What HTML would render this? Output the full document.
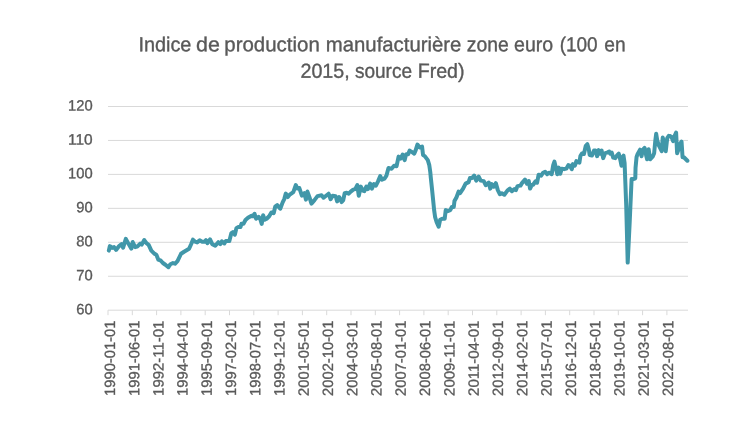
<!DOCTYPE html>
<html><head><meta charset="utf-8"><title>Chart</title>
<style>
html,body{margin:0;padding:0;background:#fff;}
body{width:750px;height:427px;overflow:hidden;font-family:"Liberation Sans",sans-serif;}
svg{display:block;}
.ax{font-family:"Liberation Sans",sans-serif;font-size:14.9px;fill:#595959;stroke:#595959;stroke-width:0.33px;}
.t{font-family:"Liberation Sans",sans-serif;font-size:20.3px;fill:#595959;stroke:#595959;stroke-width:0.35px;}
</style></head><body>
<svg width="750" height="427" viewBox="0 0 750 427">
<rect width="750" height="427" fill="#ffffff"/>
<g style="will-change:transform;text-rendering:geometricPrecision">
<text x="138.42" y="51.25" transform="rotate(0.05 138.42 51.25)" textLength="53.01" lengthAdjust="spacingAndGlyphs" class="t">Indice</text>
<text x="196.06" y="51.25" transform="rotate(0.05 196.06 51.25)" textLength="23.85" lengthAdjust="spacingAndGlyphs" class="t">de</text>
<text x="224.32" y="51.25" transform="rotate(0.05 224.32 51.25)" textLength="95.44" lengthAdjust="spacingAndGlyphs" class="t">production</text>
<text x="325.75" y="51.25" transform="rotate(0.05 325.75 51.25)" textLength="135.68" lengthAdjust="spacingAndGlyphs" class="t">manufacturière</text>
<text x="466.84" y="51.25" transform="rotate(0.05 466.84 51.25)" textLength="41.91" lengthAdjust="spacingAndGlyphs" class="t">zone</text>
<text x="514.11" y="51.25" transform="rotate(0.05 514.11 51.25)" textLength="39.07" lengthAdjust="spacingAndGlyphs" class="t">euro</text>
<text x="559.63" y="51.25" transform="rotate(0.05 559.63 51.25)" textLength="38.06" lengthAdjust="spacingAndGlyphs" class="t">(100</text>
<text x="604.27" y="51.25" transform="rotate(0.05 604.27 51.25)" textLength="21.32" lengthAdjust="spacingAndGlyphs" class="t">en</text>
<text x="300.44" y="77.8" transform="rotate(0.05 300.44 77.8)" textLength="49.29" lengthAdjust="spacingAndGlyphs" class="t">2015,</text>
<text x="354.88" y="77.8" transform="rotate(0.05 354.88 77.8)" textLength="57.14" lengthAdjust="spacingAndGlyphs" class="t">source</text>
<text x="417.68" y="77.8" transform="rotate(0.05 417.68 77.8)" textLength="46.89" lengthAdjust="spacingAndGlyphs" class="t">Fred)</text>
<line x1="108.0" y1="106.50" x2="688.0" y2="106.50" stroke="#d9d9d9" stroke-width="1"/>
<line x1="108.0" y1="140.45" x2="688.0" y2="140.45" stroke="#d9d9d9" stroke-width="1"/>
<line x1="108.0" y1="174.40" x2="688.0" y2="174.40" stroke="#d9d9d9" stroke-width="1"/>
<line x1="108.0" y1="208.35" x2="688.0" y2="208.35" stroke="#d9d9d9" stroke-width="1"/>
<line x1="108.0" y1="242.30" x2="688.0" y2="242.30" stroke="#d9d9d9" stroke-width="1"/>
<line x1="108.0" y1="276.25" x2="688.0" y2="276.25" stroke="#d9d9d9" stroke-width="1"/>
<line x1="108.0" y1="310.20" x2="688.0" y2="310.20" stroke="#d9d9d9" stroke-width="1"/>
<line x1="108.00" y1="310.20" x2="108.00" y2="315.20" stroke="#d9d9d9" stroke-width="1"/>
<line x1="132.30" y1="310.20" x2="132.30" y2="315.20" stroke="#d9d9d9" stroke-width="1"/>
<line x1="156.60" y1="310.20" x2="156.60" y2="315.20" stroke="#d9d9d9" stroke-width="1"/>
<line x1="180.90" y1="310.20" x2="180.90" y2="315.20" stroke="#d9d9d9" stroke-width="1"/>
<line x1="205.20" y1="310.20" x2="205.20" y2="315.20" stroke="#d9d9d9" stroke-width="1"/>
<line x1="229.50" y1="310.20" x2="229.50" y2="315.20" stroke="#d9d9d9" stroke-width="1"/>
<line x1="253.80" y1="310.20" x2="253.80" y2="315.20" stroke="#d9d9d9" stroke-width="1"/>
<line x1="278.10" y1="310.20" x2="278.10" y2="315.20" stroke="#d9d9d9" stroke-width="1"/>
<line x1="302.40" y1="310.20" x2="302.40" y2="315.20" stroke="#d9d9d9" stroke-width="1"/>
<line x1="326.70" y1="310.20" x2="326.70" y2="315.20" stroke="#d9d9d9" stroke-width="1"/>
<line x1="351.00" y1="310.20" x2="351.00" y2="315.20" stroke="#d9d9d9" stroke-width="1"/>
<line x1="375.30" y1="310.20" x2="375.30" y2="315.20" stroke="#d9d9d9" stroke-width="1"/>
<line x1="399.60" y1="310.20" x2="399.60" y2="315.20" stroke="#d9d9d9" stroke-width="1"/>
<line x1="423.90" y1="310.20" x2="423.90" y2="315.20" stroke="#d9d9d9" stroke-width="1"/>
<line x1="448.20" y1="310.20" x2="448.20" y2="315.20" stroke="#d9d9d9" stroke-width="1"/>
<line x1="472.50" y1="310.20" x2="472.50" y2="315.20" stroke="#d9d9d9" stroke-width="1"/>
<line x1="496.80" y1="310.20" x2="496.80" y2="315.20" stroke="#d9d9d9" stroke-width="1"/>
<line x1="521.10" y1="310.20" x2="521.10" y2="315.20" stroke="#d9d9d9" stroke-width="1"/>
<line x1="545.40" y1="310.20" x2="545.40" y2="315.20" stroke="#d9d9d9" stroke-width="1"/>
<line x1="569.70" y1="310.20" x2="569.70" y2="315.20" stroke="#d9d9d9" stroke-width="1"/>
<line x1="594.00" y1="310.20" x2="594.00" y2="315.20" stroke="#d9d9d9" stroke-width="1"/>
<line x1="618.30" y1="310.20" x2="618.30" y2="315.20" stroke="#d9d9d9" stroke-width="1"/>
<line x1="642.60" y1="310.20" x2="642.60" y2="315.20" stroke="#d9d9d9" stroke-width="1"/>
<line x1="666.90" y1="310.20" x2="666.90" y2="315.20" stroke="#d9d9d9" stroke-width="1"/>
<text x="68.10" y="110.45" transform="rotate(0.05 68.10 110.45)" textLength="24.6" lengthAdjust="spacingAndGlyphs" class="ax">120</text>
<text x="68.10" y="144.40" transform="rotate(0.05 68.10 144.40)" textLength="24.6" lengthAdjust="spacingAndGlyphs" class="ax">110</text>
<text x="68.10" y="178.35" transform="rotate(0.05 68.10 178.35)" textLength="24.6" lengthAdjust="spacingAndGlyphs" class="ax">100</text>
<text x="76.30" y="212.30" transform="rotate(0.05 76.30 212.30)" textLength="16.4" lengthAdjust="spacingAndGlyphs" class="ax">90</text>
<text x="76.30" y="246.25" transform="rotate(0.05 76.30 246.25)" textLength="16.4" lengthAdjust="spacingAndGlyphs" class="ax">80</text>
<text x="76.30" y="280.20" transform="rotate(0.05 76.30 280.20)" textLength="16.4" lengthAdjust="spacingAndGlyphs" class="ax">70</text>
<text x="76.30" y="314.15" transform="rotate(0.05 76.30 314.15)" textLength="16.4" lengthAdjust="spacingAndGlyphs" class="ax">60</text>
<text transform="translate(114.95,395.9) rotate(-89.95)" textLength="75.3" lengthAdjust="spacingAndGlyphs" class="ax">1990-01-01</text>
<text transform="translate(139.17,395.9) rotate(-89.95)" textLength="75.3" lengthAdjust="spacingAndGlyphs" class="ax">1991-06-01</text>
<text transform="translate(163.39,395.9) rotate(-89.95)" textLength="75.3" lengthAdjust="spacingAndGlyphs" class="ax">1992-11-01</text>
<text transform="translate(187.61,395.9) rotate(-89.95)" textLength="75.3" lengthAdjust="spacingAndGlyphs" class="ax">1994-04-01</text>
<text transform="translate(211.83,395.9) rotate(-89.95)" textLength="75.3" lengthAdjust="spacingAndGlyphs" class="ax">1995-09-01</text>
<text transform="translate(236.05,395.9) rotate(-89.95)" textLength="75.3" lengthAdjust="spacingAndGlyphs" class="ax">1997-02-01</text>
<text transform="translate(260.27,395.9) rotate(-89.95)" textLength="75.3" lengthAdjust="spacingAndGlyphs" class="ax">1998-07-01</text>
<text transform="translate(284.49,395.9) rotate(-89.95)" textLength="75.3" lengthAdjust="spacingAndGlyphs" class="ax">1999-12-01</text>
<text transform="translate(308.71,395.9) rotate(-89.95)" textLength="75.3" lengthAdjust="spacingAndGlyphs" class="ax">2001-05-01</text>
<text transform="translate(332.93,395.9) rotate(-89.95)" textLength="75.3" lengthAdjust="spacingAndGlyphs" class="ax">2002-10-01</text>
<text transform="translate(357.20,395.9) rotate(-89.95)" textLength="75.3" lengthAdjust="spacingAndGlyphs" class="ax">2004-03-01</text>
<text transform="translate(381.50,395.9) rotate(-89.95)" textLength="75.3" lengthAdjust="spacingAndGlyphs" class="ax">2005-08-01</text>
<text transform="translate(405.80,395.9) rotate(-89.95)" textLength="75.3" lengthAdjust="spacingAndGlyphs" class="ax">2007-01-01</text>
<text transform="translate(430.10,395.9) rotate(-89.95)" textLength="75.3" lengthAdjust="spacingAndGlyphs" class="ax">2008-06-01</text>
<text transform="translate(454.40,395.9) rotate(-89.95)" textLength="75.3" lengthAdjust="spacingAndGlyphs" class="ax">2009-11-01</text>
<text transform="translate(478.70,395.9) rotate(-89.95)" textLength="75.3" lengthAdjust="spacingAndGlyphs" class="ax">2011-04-01</text>
<text transform="translate(503.00,395.9) rotate(-89.95)" textLength="75.3" lengthAdjust="spacingAndGlyphs" class="ax">2012-09-01</text>
<text transform="translate(527.30,395.9) rotate(-89.95)" textLength="75.3" lengthAdjust="spacingAndGlyphs" class="ax">2014-02-01</text>
<text transform="translate(551.60,395.9) rotate(-89.95)" textLength="75.3" lengthAdjust="spacingAndGlyphs" class="ax">2015-07-01</text>
<text transform="translate(575.90,395.9) rotate(-89.95)" textLength="75.3" lengthAdjust="spacingAndGlyphs" class="ax">2016-12-01</text>
<text transform="translate(600.20,395.9) rotate(-89.95)" textLength="75.3" lengthAdjust="spacingAndGlyphs" class="ax">2018-05-01</text>
<text transform="translate(624.50,395.9) rotate(-89.95)" textLength="75.3" lengthAdjust="spacingAndGlyphs" class="ax">2019-10-01</text>
<text transform="translate(648.80,395.9) rotate(-89.95)" textLength="75.3" lengthAdjust="spacingAndGlyphs" class="ax">2021-03-01</text>
<text transform="translate(673.10,395.9) rotate(-89.95)" textLength="75.3" lengthAdjust="spacingAndGlyphs" class="ax">2022-08-01</text>
</g>
<polyline points="108.83,250.64 109.83,246.11 112.05,247.92 114.06,247.11 116.07,249.93 119.09,246.11 121.61,244.09 123.12,247.62 125.84,238.86 128.66,244.09 131.38,248.62 132.69,242.08 135.2,247.11 137.22,246.61 140.24,243.59 141.75,244.6 144.26,240.07 146.28,242.89 148.79,245.1 151.31,250.64 154.33,253.66 156.34,254.67 158.36,259.7 160.87,260.71 162.89,263.02 165.4,264.73 168.42,267.25 170.44,264.23 172.96,263.02 174.97,263.73 177.49,261.21 181.04,253.76 184.06,251.75 186.58,250.24 189.09,248.73 191.11,244.2 192.92,239.67 195.13,241.68 197.15,242.38 199.67,240.37 202.18,241.68 204.7,241.68 206.01,240.17 207.42,243.19 210.03,239.46 212.25,244.2 215.27,245.71 218.29,242.18 220.3,244.2 221.81,241.38 224.33,243.39 225.84,240.97 229.36,240.97 231.38,233.12 232.89,232.11 234.9,234.63 236.41,228.09 238.42,226.88 240.44,227.08 241.45,223.86 243.46,223.86 245.47,220.03 247.99,217.82 251.54,215.74 253.05,216.24 254.56,213.73 256.07,218.76 258.59,216.75 260.3,219.26 261.71,223.89 263.12,215.24 264.63,219.77 266.65,218.76 269.16,216.24 271.38,212.42 273.69,213.22 275.2,206.68 277.22,205.17 280.24,208.69 282.75,202.15 284.26,199.13 285.77,193.59 287.79,197.11 289.8,194.6 293.32,192.08 295.84,185.03 297.35,188.56 299.36,188.05 301.88,195.6 304.4,193.09 305.91,199.63 307.42,191.58 309.43,197.11 311.45,203.66 314.47,200.13 317.49,196.11 321.54,195.2 323.56,197.72 326.07,195.71 328.59,193.69 330.6,199.23 332.62,195.71 335.64,196.21 337.15,201.44 339.16,197.01 341.68,202.05 343.19,200.24 344.7,193.19 346.71,192.69 348.73,193.69 350.74,191.68 353.26,189.67 355.27,189.16 357.28,185.13 358.79,195.71 360.81,186.65 362.82,190.67 364.33,191.18 366.34,186.65 367.85,189.16 370.17,183.62 371.88,188.66 373.89,184.13 375.91,185.64 377.92,181.61 380.24,176.07 381.95,179.6 384.47,178.59 386.48,175.57 388.49,168.02 391.54,168.73 394.06,165.71 396.58,166.21 398.59,156.65 400.6,158.66 402.62,154.63 404.63,160.17 406.14,154.13 408.16,154.13 409.67,150.6 412.18,152.11 414.2,153.62 415.71,150.1 417.42,144.56 419.73,147.58 422.05,146.58 423.05,155.13 424.77,156.14 427.79,160.17 429.3,165.2 430.3,172.25 430.81,177.79 432.11,190.0 433.12,200.07 434.13,210.13 435.13,217.18 436.65,222.22 438.66,226.75 440.17,219.7 442.18,218.69 444.7,218.69 445.71,210.13 447.72,211.14 450.24,210.13 451.75,207.11 453.76,207.11 454.46,201.07 456.54,197.22 458.56,191.68 460.07,193.19 463.09,188.66 465.6,183.62 468.62,182.11 469.93,178.09 472.15,178.09 474.16,175.57 476.18,180.6 478.69,176.58 480.71,180.6 483.73,181.11 485.74,185.13 488.76,182.62 490.27,188.66 491.78,184.13 493.79,186.65 495.81,183.12 497.82,190.17 499.83,194.2 501.85,193.19 504.36,194.7 507.38,190.67 509.9,188.66 511.91,191.18 514.43,189.16 515.94,190.17 517.45,186.14 520.47,185.64 521.98,183.12 525.0,179.6 527.05,183.76 528.76,181.04 530.07,188.59 531.68,185.07 533.09,184.77 535.6,181.24 537.11,182.75 538.62,174.7 541.14,175.71 543.16,172.69 545.17,171.68 547.18,174.2 549.2,172.69 551.71,174.2 553.22,165.13 554.43,161.61 555.74,167.15 557.25,174.2 558.76,167.65 560.27,173.69 561.78,168.66 564.3,169.16 566.31,168.66 568.32,165.13 569.83,165.64 571.85,169.16 572.85,164.13 574.87,165.64 576.38,161.11 577.89,162.11 579.4,162.62 580.4,156.07 581.91,153.56 583.93,154.06 584.94,149.53 585.74,145.81 587.35,144.19 588.76,149.03 589.67,155.07 591.98,155.57 594.0,150.54 595.6,150.6 597.11,156.14 598.62,150.1 600.13,153.62 601.65,150.6 603.16,158.16 605.17,153.12 607.18,152.62 609.2,151.61 610.2,153.62 611.71,152.62 613.22,157.65 615.24,158.16 617.25,155.13 618.76,153.62 620.27,159.67 621.48,165.71 622.28,157.15 623.49,155.64 624.6,163.0 626.2,205.0 627.7,262.6 629.7,222.0 631.6,179.0 633.2,179.2 635.3,178.3 635.54,167.79 636.54,157.22 637.55,154.2 640.07,149.67 641.58,156.21 642.58,150.17 644.6,147.95 646.11,155.2 647.11,159.23 648.62,149.16 650.13,159.23 652.65,156.71 654.16,153.19 655.17,142.11 656.18,133.86 657.18,140.1 658.69,145.13 660.2,148.16 661.71,151.18 662.72,137.58 664.23,143.62 665.74,151.18 667.25,138.09 668.76,135.87 670.27,136.07 671.48,136.88 673.09,141.11 674.3,136.58 676.11,132.55 677.12,153.19 678.83,148.66 679.83,144.13 681.55,141.61 682.55,157.22 683.86,157.22 685.37,158.73 687.38,160.74" fill="none" stroke="#4197a9" stroke-width="4" stroke-linejoin="round" stroke-linecap="round"/>
</svg>
</body></html>
